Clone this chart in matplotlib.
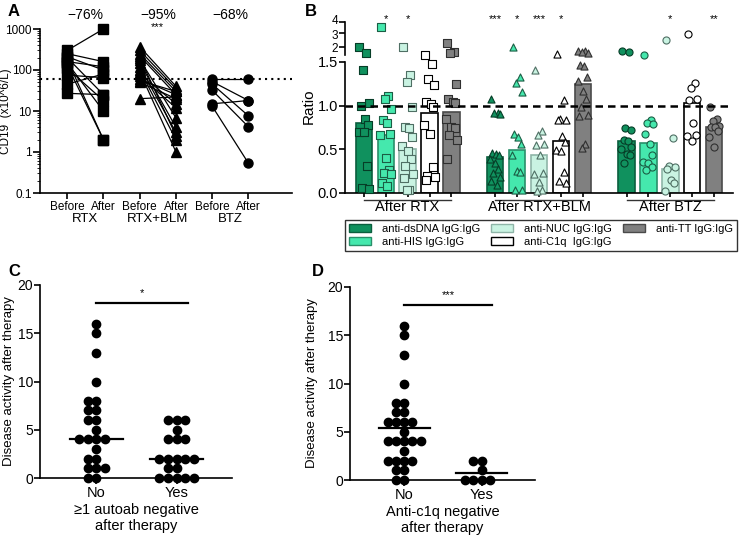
import numpy as np
import matplotlib
matplotlib.use('Agg')
import matplotlib.pyplot as plt
import matplotlib.transforms as mtransforms
from matplotlib.patches import Patch

plt.rcParams['font.family'] = ['Liberation Sans', 'DejaVu Sans']
plt.rcParams['axes.linewidth'] = 1.2
plt.rcParams['xtick.major.width'] = 1.2
plt.rcParams['ytick.major.width'] = 1.2

# ---- panel A: CD19 counts before / after
rtx_before = [300, 250, 210, 200, 180, 160, 150, 130, 110, 75, 45, 27]
rtx_after = [1000, 160, 100, 25, 2, 120, 10, 2, 18, 65, 80, 25]
blm_before = [370, 300, 250, 220, 200, 180, 150, 120, 100, 90, 80, 70, 60, 55, 50, 20]
blm_after = [40, 35, 30, 25, 2.5, 6.8, 4, 3, 2, 1, 15, 12, 25, 30, 20, 22]
btz_before = [60, 52, 45, 32, 15, 13]
btz_after = [60, 18, 7.6, 4.1, 18, 0.53]
a_groups = ['RTX', 'RTX+BLM', 'BTZ']
a_change = ['\u221276%', '\u221295%', '\u221268%']
a_stars = ['', '***', '']
cd19_cutoff = 60

# ---- panel B: ratios after therapy
b_groups = ['After RTX', 'After RTX+BLM', 'After BTZ']
b_series = ['anti-dsDNA IgG:IgG', 'anti-HIS IgG:IgG', 'anti-NUC IgG:IgG',
            'anti-C1q  IgG:IgG', 'anti-TT IgG:IgG']
b_bars = [0.80, 0.66, 0.50, 0.92, 0.93,
          0.41, 0.49, 0.43, 0.60, 1.25,
          0.60, 0.57, 0.28, 1.03, 0.76]
rtx_dsdna = [2.0, 1.7, 1.41, 1.03, 1.0, 0.85, 0.78, 0.70, 0.70, 0.31, 0.06, 0.05]
rtx_his = [3.5, 1.11, 1.07, 0.96, 0.84, 0.80, 0.67, 0.66, 0.40, 0.26, 0.23, 0.22, 0.11, 0.08]
rtx_nuc = [2.0, 1.35, 1.27, 0.98, 0.75, 0.74, 0.64, 0.54, 0.48, 0.39, 0.31, 0.22, 0.17, 0.04, 0.03]
rtx_c1q = [1.6, 1.48, 1.30, 1.23, 1.04, 1.02, 0.98, 0.78, 0.68, 0.30, 0.20, 0.18, 0.15]
rtx_tt = [2.25, 1.75, 1.7, 1.25, 1.07, 1.04, 1.03, 0.85, 0.76, 0.74, 0.66, 0.61, 0.39]
blm_dsdna = [1.08, 0.92, 0.91, 0.90, 0.46, 0.45, 0.44, 0.39, 0.34, 0.27, 0.23, 0.18, 0.14, 0.09]
blm_his = [2.0, 1.33, 1.26, 1.15, 0.67, 0.64, 0.56, 0.43, 0.25, 0.24, 0.04, 0.03]
blm_nuc = [1.41, 0.71, 0.66, 0.56, 0.55, 0.44, 0.23, 0.22, 0.13, 0.04, 0.02]
blm_c1q = [1.65, 1.06, 0.85, 0.84, 0.83, 0.65, 0.58, 0.49, 0.48, 0.24, 0.14, 0.12]
blm_tt = [1.8, 1.8, 1.75, 1.7, 1.46, 1.45, 1.33, 1.28, 1.17, 1.07, 0.98, 0.89, 0.88, 0.56, 0.51]
btz_dsdna = [1.8, 1.75, 0.74, 0.72, 0.61, 0.60, 0.53, 0.50, 0.45, 0.44, 0.34]
btz_his = [1.6, 0.84, 0.80, 0.79, 0.68, 0.56, 0.44, 0.35, 0.34, 0.30, 0.26]
btz_nuc = [2.45, 0.63, 0.31, 0.30, 0.28, 0.15, 0.12, 0.02]
btz_c1q = [2.9, 1.26, 1.20, 1.08, 1.06, 0.80, 0.66, 0.65, 0.60]
btz_tt = [0.98, 0.85, 0.82, 0.77, 0.76, 0.75, 0.71, 0.64, 0.53]
b_stars = ['', '*', '*', '', '',
           '***', '*', '***', '*', '',
           '', '', '*', '', '**']

# ---- panels C and D: disease activity
c_no = [16, 15, 13, 10, 8, 8, 7, 7, 6, 6, 5, 4, 4, 4, 4, 3, 2, 2, 1, 1, 1, 0, 0]
c_yes = [6, 6, 6, 5, 4, 4, 4, 2, 2, 2, 2, 2, 1, 1, 0, 0, 0, 0, 0]
d_no = [16, 15, 13, 10, 8, 8, 7, 7, 6, 6, 6, 6, 5, 4, 4, 4, 4, 4, 3, 2, 2, 2, 2, 1, 1, 0, 0]
d_yes = [2, 2, 1, 0, 0, 0, 0]

W, H = 740, 540
fig = plt.figure(figsize=(7.4, 5.4), dpi=100)


def box(l, t, r, b):
    return [l / W, 1 - b / H, (r - l) / W, (b - t) / H]


def swarm(vals, d, xpx, ypx):
    # simple beeswarm, offsets in data units
    placed = []
    offs = []
    cands = sorted([k * d / 2 for k in range(-8, 9)], key=lambda v: (abs(v), v))
    for v in vals:
        for c in cands:
            ok = all((c - px) ** 2 + ((v - pv) * ypx) ** 2 >= d * d * 0.98 for px, pv in placed)
            if ok:
                break
        placed.append((c, v))
        offs.append(c / xpx)
    return np.array(offs)


# ================= A
axA = fig.add_axes(box(40, 29, 292, 193))
axA.set_yscale('log')
axA.set_ylim(0.1, 1000)
axA.set_xlim(-0.75, 6.2)
pairs = [(rtx_before, rtx_after, 's'), (blm_before, blm_after, '^'), (btz_before, btz_after, 'o')]
for i, (bef, aft, m) in enumerate(pairs):
    for b, a in zip(bef, aft):
        axA.plot([2 * i, 2 * i + 1], [b, a], color='k', lw=0.9, marker=m, ms=6.5,
                 mfc='k', mec='k', clip_on=False, zorder=3)
    axA.text(2 * i + 0.5, -0.16, a_groups[i], transform=axA.get_xaxis_transform(),
             ha='center', va='center', fontsize=9.5)
    axA.text(2 * i + 0.5, 1.085, a_change[i], transform=axA.get_xaxis_transform(),
             ha='center', va='center', fontsize=10)
    if a_stars[i]:
        axA.text(2 * i + 0.5, 1.01, a_stars[i], transform=axA.get_xaxis_transform(),
                 ha='center', va='center', fontsize=8)
axA.axhline(cd19_cutoff, ls=(0, (1, 2)), color='k', lw=1.5)
axA.set_xticks(range(6))
axA.set_xticklabels(['Before', 'After'] * 3, fontsize=8.5)
axA.set_yticks([0.1, 1, 10, 100, 1000])
axA.set_yticklabels(['0.1', '1', '10', '100', '1000'], fontsize=8.5)
axA.tick_params(axis='x', pad=1.5, length=4)
axA.tick_params(axis='y', which='major', length=5, pad=1)
axA.tick_params(axis='y', which='minor', length=2.5)
axA.set_ylabel('CD19  (x10^6/L)', fontsize=8.5)
axA.yaxis.set_label_coords(-0.111, 0.5)
for s in ['top', 'right']:
    axA.spines[s].set_visible(False)
fig.text(8 / W, 1 - 11 / H, 'A', fontsize=12, fontweight='bold', va='center')

# ================= B
GAP, K = 0.046, 0.95


def fwd(y):
    y = np.asarray(y, float)
    return np.where(y <= 1.5, y, 1.5 + GAP + K * np.log10(np.maximum(y, 1.5) / 1.5))


def inv(u):
    u = np.asarray(u, float)
    return np.where(u <= 1.5, u, 1.5 * 10 ** (np.maximum(u - 1.5 - GAP, 0) / K))


axB = fig.add_axes(box(345, 20, 733, 193))
axB.set_yscale('function', functions=(fwd, inv))
axB.set_ylim(0, 4.27)
axB.set_xlim(-0.86, 16.86)

fills = ['#10915e', '#45e8ad', '#c9f3e2', '#ffffff', '#808080']
edges = ['#0b5f3e', '#2a8f6a', '#8fb5a8', '#000000', '#4a4a4a']
mark_edges = ['#063d27', '#1b5e45', '#4f6f64', '#000000', '#2f2f2f']
markers = ['s', '^', 'o']
points = [rtx_dsdna, rtx_his, rtx_nuc, rtx_c1q, rtx_tt,
          blm_dsdna, blm_his, blm_nuc, blm_c1q, blm_tt,
          btz_dsdna, btz_his, btz_nuc, btz_c1q, btz_tt]
jitter = np.array([-0.2, 0.12, -0.05, 0.22, -0.14, 0.05, 0.18, -0.24, 0.0, 0.15, -0.1, 0.24, -0.18, 0.08, -0.02])
pos = []
for g in range(3):
    for s in range(5):
        k = g * 5 + s
        x = g * 6 + s
        pos.append(x)
        axB.bar(x, b_bars[k], width=0.75, color=fills[s], edgecolor=edges[s], lw=1.2, zorder=2)
        vals = np.array(points[k])
        axB.scatter(x + jitter[:len(vals)], vals, marker=markers[g], s=26, c=fills[s],
                    edgecolors=mark_edges[s], linewidths=0.8, zorder=3, clip_on=False)
        if b_stars[k]:
            axB.text(x, 1.005, b_stars[k], transform=axB.get_xaxis_transform(),
                     ha='center', va='center', fontsize=8)
    axB.plot([g * 6, g * 6 + 4], [-0.04, -0.04], transform=axB.get_xaxis_transform(),
             color='#333333', lw=1, clip_on=False)
    axB.text(g * 6 + 2, -0.08, b_groups[g], transform=axB.get_xaxis_transform(),
             ha='center', va='center', fontsize=10.5)
axB.axhline(1.0, ls=(0, (3, 2)), color='k', lw=1.8, zorder=4)
axB.set_xticks(pos)
axB.set_xticklabels([])
axB.tick_params(axis='x', length=3)
axB.set_yticks([0, 0.5, 1.0, 1.5, 2, 3, 4])
axB.set_yticklabels(['0.0', '0.5', '1.0', '1.5', '2', '3', '4'], fontsize=10.5)
axB.tick_params(axis='y', length=4, pad=1)
axB.minorticks_off()
# small upper (log) segment labels, nudged apart slightly
nudge = {'4': 2, '3': -1}
for lab in axB.get_yticklabels()[4:]:
    lab.set_fontsize(8.5)
    dy = nudge.get(lab.get_text(), 0)
    if dy:
        lab.set_transform(lab.get_transform() + mtransforms.ScaledTranslation(0, dy / 72, fig.dpi_scale_trans))
axB.spines['left'].set_bounds(0, 1.5)
axB.plot([0, 0], [1.6, 4.0], transform=axB.get_yaxis_transform(), color='k', lw=1.2, clip_on=False)
for s in ['top', 'right']:
    axB.spines[s].set_visible(False)
axB.set_ylabel('Ratio', fontsize=11)
axB.yaxis.set_label_coords(-0.075, 0.5)
fig.text(305 / W, 1 - 11 / H, 'B', fontsize=12, fontweight='bold', va='center')

handles = [Patch(facecolor=fills[s], edgecolor=edges[s], lw=1) for s in range(5)]
leg = fig.legend(handles, b_series, ncol=3, loc='upper left',
                 bbox_to_anchor=(345 / W, 1 - 220 / H, 392 / W, 0), mode='expand',
                 fontsize=8, frameon=True, fancybox=False, edgecolor='k',
                 handlelength=2.0, handleheight=0.8, labelspacing=0.25,
                 borderaxespad=0, borderpad=0.35, handletextpad=1.0)
leg.get_frame().set_linewidth(1.0)


# ================= C and D
def dot_panel(rect, no, yes, center, sig, xlabel, letter, lx, ylab_x):
    ax = fig.add_axes(rect)
    ax.set_xlim(-0.7, 1.69)
    ax.set_ylim(0, 20)
    for x, vals in [(0, no), (1, yes)]:
        vals = np.array(vals, float)
        offs = swarm(vals, 8.5, 80, 9.6)
        ax.plot(x + offs, vals, 'o', color='k', ms=6, clip_on=False, zorder=3)
        c = np.median(vals) if center == 'median' else np.mean(vals)
        ax.plot([x - 0.33, x + 0.33], [c, c], color='k', lw=1.6, zorder=4)
    ax.plot([0, 1.14], [18.1, 18.1], color='k', lw=1.6)
    ax.text(0.57, 18.6, sig, ha='center', va='bottom', fontsize=8)
    ax.set_xticks([0, 1])
    ax.set_xticklabels(['No', 'Yes'], fontsize=10.5)
    ax.set_yticks([0, 5, 10, 15, 20])
    ax.tick_params(axis='y', labelsize=10, length=4, pad=1)
    ax.tick_params(axis='x', length=4, pad=2)
    ax.set_xlabel(xlabel, fontsize=10.5, labelpad=2)
    ax.set_ylabel('Disease activity after therapy', fontsize=9.5)
    ax.yaxis.set_label_coords(ylab_x, 0.5)
    for s in ['top', 'right']:
        ax.spines[s].set_visible(False)
    fig.text(lx / W, 1 - 272 / H, letter, fontsize=12, fontweight='bold', va='center')
    return ax


dot_panel(box(40, 285, 232, 478), c_no, c_yes, 'median', '*',
          '\u22651 autoab negative\nafter therapy', 'C', 8, -0.13)
dot_panel(box(350, 287, 535, 480), d_no, d_yes, 'mean', '***',
          'Anti-c1q negative\nafter therapy', 'D', 312, -0.173)

fig.savefig('out.png', dpi=100)
